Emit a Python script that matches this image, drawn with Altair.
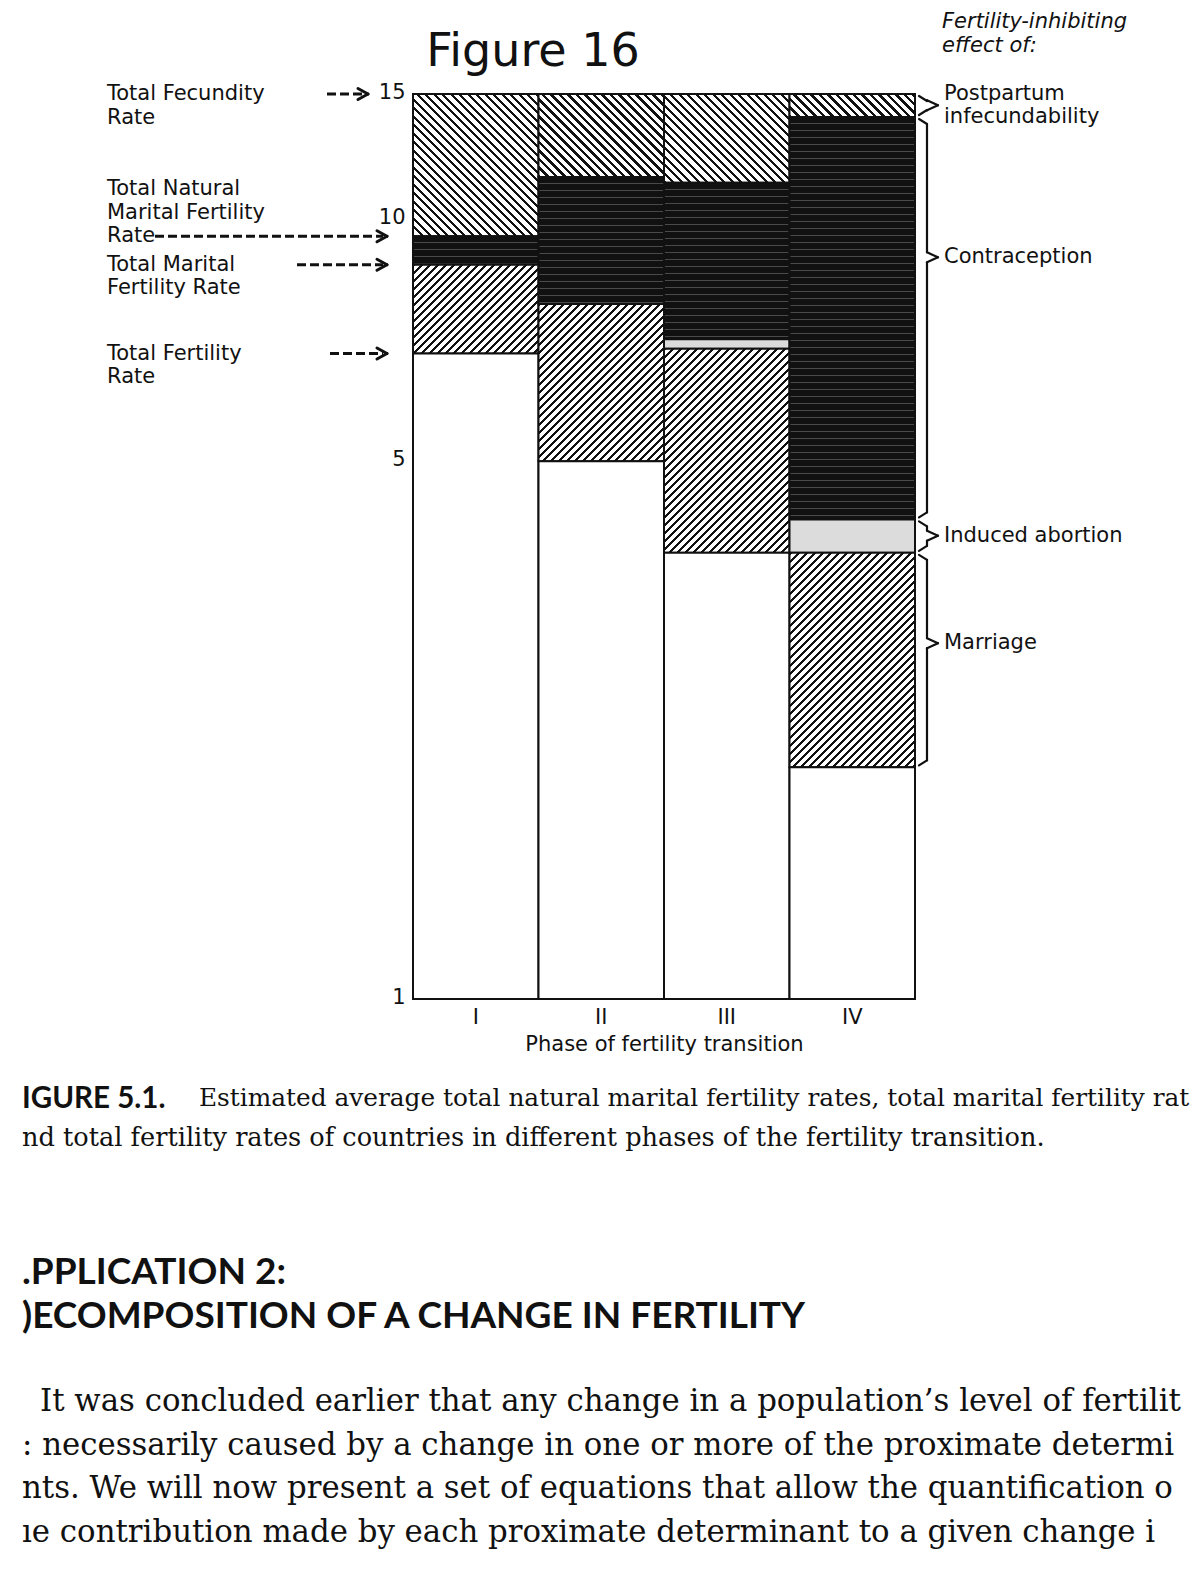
import math
import altair as alt

# ------------------------------------------------------------------
# Data (values on the log-scaled y axis)
# ------------------------------------------------------------------
phases = ["I", "II", "III", "IV"]
total_fecundity = [15.0, 15.0, 15.0, 15.0]
natural_marital_fertility = [9.8, 11.7, 11.5, 14.0]
after_contraception = [9.0, 8.0, 7.2, 4.2]
marital_fertility = [9.0, 8.0, 7.0, 3.8]
total_fertility = [6.9, 5.0, 3.8, 2.0]
axis_floor = 1.0
y_ticks = [1, 5, 10, 15]

effects = ["Postpartum infecundability", "Contraception", "Induced abortion",
           "Marriage", "Total fertility"]

left_labels = ["Total Fecundity Rate", "Total Natural Marital Fertility Rate",
               "Total Marital Fertility Rate", "Total Fertility Rate"]
left_label_lines = [["Total Fecundity", "Rate"],
                    ["Total Natural", "Marital Fertility", "Rate"],
                    ["Total Marital", "Fertility Rate"],
                    ["Total Fertility", "Rate"]]
left_label_on_line = [0, 2, 0, 0]
left_label_values = [total_fecundity[0], natural_marital_fertility[0],
                     marital_fertility[0], total_fertility[0]]

right_label_lines = [["Postpartum", "infecundability"], ["Contraception"],
                     ["Induced abortion"], ["Marriage"]]
right_label_values = [14.5, 9.2, 4.0, 2.9]

legend_heading = ["Fertility-inhibiting", "effect of:"]
figure_mark = "Figure 16"
x_title = "Phase of fertility transition"
caption_label = "IGURE 5.1."
caption_lines = [
    "Estimated average total natural marital fertility rates, total marital fertility rat",
    "nd total fertility rates of countries in different phases of the fertility transition.",
]
heading_lines = [".PPLICATION 2:", ")ECOMPOSITION OF A CHANGE IN FERTILITY"]
body_lines = [
    "It was concluded earlier that any change in a population\u2019s level of fertilit",
    ": necessarily caused by a change in one or more of the proximate determi",
    "nts. We will now present a set of equations that allow the quantification o",
    "\u0131e contribution made by each proximate determinant to a given change i",
]

# ------------------------------------------------------------------
# Styling / layout
# ------------------------------------------------------------------
INK = "#111111"
PAPER = "#ffffff"
STREAK = "#4a4a4a"
ABORTION_GREY = "#dcdcdc"
FONT = "DejaVu Sans"
SERIF = "DejaVu Serif"
HEAD_FONT = "Lato"

PLOT_W, PLOT_H = 502, 905
PADDING = {"left": 405, "top": 86, "right": 277, "bottom": 571}
BAND_W = PLOT_W / len(phases)
PX_PER_LOG = PLOT_H / math.log(max(total_fecundity) / axis_floor)
LINE_H = 23.5


def seg_px(top, bottom):
    return PX_PER_LOG * math.log(top / bottom)


def stripe_stops(period, frac, length, c_line, c_gap):
    stops = []
    if length <= 0:
        return [{"offset": 0, "color": c_line}, {"offset": 1, "color": c_line}]
    step = period / length
    t = 0.0
    while t < 1.0 - 1e-9:
        a = t
        b = min(1.0, t + frac * step)
        c = min(1.0, t + step)
        stops += [{"offset": round(a, 5), "color": c_line},
                  {"offset": round(b, 5), "color": c_line},
                  {"offset": round(b, 5), "color": c_gap},
                  {"offset": round(c, 5), "color": c_gap}]
        t += step
    return stops


def hatch(direction, w, h, period, frac):
    total = w + h
    s = total / (w * w + h * h)
    stops = stripe_stops(period, frac, total, INK, PAPER)
    if direction == "/":
        return {"gradient": "linear", "x1": 0, "y1": 0, "x2": s * w, "y2": s * h, "stops": stops}
    return {"gradient": "linear", "x1": 0, "y1": 1, "x2": s * w, "y2": 1 - s * h, "stops": stops}


def segment_fill(effect, top, bottom):
    h = seg_px(top, bottom)
    if effect == effects[0]:
        return hatch("\\", BAND_W, h, 8.5, 0.38)
    if effect == effects[1]:
        return {"gradient": "linear", "x1": 0, "y1": 0, "x2": 0, "y2": 1,
                "stops": stripe_stops(7.0, 0.86, h, INK, STREAK)}
    if effect == effects[2]:
        return ABORTION_GREY
    if effect == effects[3]:
        return hatch("/", BAND_W, h, 8.0, 0.38)
    return PAPER


segments = []
for i, phase in enumerate(phases):
    levels = [total_fecundity[i], natural_marital_fertility[i], after_contraception[i],
              marital_fertility[i], total_fertility[i], axis_floor]
    for j, eff in enumerate(effects):
        top, bottom = levels[j], levels[j + 1]
        segments.append({"phase": phase, "effect": eff, "top": top, "bottom": bottom,
                         "fill": segment_fill(eff, top, bottom)})

Y_SCALE = alt.Scale(type="log", domain=[axis_floor, max(total_fecundity)], nice=False)
Y_AXIS = alt.Axis(values=y_ticks, format="d", labelFont=FONT, labelFontSize=21,
                  labelColor=INK, labelPadding=8, ticks=False, domain=False,
                  grid=False, title=None,
                  labelOffset={"condition": {"test": "datum.value == 10", "value": -12},
                               "value": -2})


def y_enc(field):
    return alt.Y(f"{field}:Q", scale=Y_SCALE, axis=Y_AXIS)


bars = alt.Chart(alt.Data(values=segments)).mark_bar(
    stroke=INK, strokeWidth=2
).encode(
    x=alt.X("phase:N", sort=phases,
            scale=alt.Scale(paddingInner=0, paddingOuter=0),
            axis=alt.Axis(labelAngle=0, labelFont=FONT, labelFontSize=21, labelColor=INK,
                          labelPadding=7, ticks=False, domain=False, title=x_title,
                          titleFont=FONT, titleFontSize=21, titleFontWeight="normal",
                          titleColor=INK, titlePadding=6)),
    y=y_enc("top"),
    y2=alt.Y2("bottom:Q"),
    fill=alt.Fill("fill:N", scale=None),
)

layers = [bars]

# ---------------- left-hand labels with dashed arrows ----------------
LEFT_X = -306
ARROWS = {  # (dash start x, arrow tip x) relative to plot origin
    left_labels[0]: (-86, -45),
    left_labels[1]: (-258, -26),
    left_labels[2]: (-116, -26),
    left_labels[3]: (-83, -26),
}
left_rows = []
for idx, lines in enumerate(left_label_lines):
    for li, txt in enumerate(lines):
        left_rows.append({"label": left_labels[idx], "t": txt,
                          "value": left_label_values[idx],
                          "shift": li - left_label_on_line[idx]})
for sh in sorted(set(r["shift"] for r in left_rows)):
    rows = [r for r in left_rows if r["shift"] == sh]
    layers.append(
        alt.Chart(alt.Data(values=rows)).mark_text(
            align="left", baseline="middle", font=FONT, fontSize=21, color=INK,
            dy=sh * LINE_H
        ).encode(x=alt.value(LEFT_X), y=y_enc("value"), text="t:N")
    )

for idx, lab in enumerate(left_labels):
    x0, tip = ARROWS[lab]
    d = alt.Data(values=[{"label": lab, "value": left_label_values[idx]}])
    layers.append(
        alt.Chart(d).mark_rule(stroke=INK, strokeWidth=3, strokeDash=[9, 4]).encode(
            x=alt.value(x0), x2=alt.value(tip - 4), y=y_enc("value"))
    )
    for off in (-5.5, 5.5):
        layers.append(
            alt.Chart(d).mark_rule(stroke=INK, strokeWidth=3, strokeCap="round",
                                   yOffset=off, y2Offset=0).encode(
                x=alt.value(tip - 10), x2=alt.value(tip),
                y=y_enc("value"), y2=alt.Y2("value:Q"))
        )

# ---------------- right-hand braces and labels ----------------
levels_last = [total_fecundity[-1], natural_marital_fertility[-1], after_contraception[-1],
               marital_fertility[-1], total_fertility[-1]]
brace_rows = [{"effect": effects[j], "top": levels_last[j], "bottom": levels_last[j + 1],
               "nub": right_label_values[j]} for j in range(4)]
BX0, BX1, BX2 = 506, 514, 525
GAP, CURL, NUB = 2, 5, 5
brace_segments = [
    (BX0, BX1, "top", GAP, "top", GAP + CURL),
    (BX1, BX1, "top", GAP + CURL, "nub", -NUB),
    (BX1, BX2, "nub", -NUB, "nub", 0),
    (BX2, BX1, "nub", 0, "nub", NUB),
    (BX1, BX1, "nub", NUB, "bottom", -GAP - CURL),
    (BX1, BX0, "bottom", -GAP - CURL, "bottom", -GAP),
]
for xa, xb, f1, o1, f2, o2 in brace_segments:
    layers.append(
        alt.Chart(alt.Data(values=brace_rows)).mark_rule(
            stroke=INK, strokeWidth=2.2, strokeCap="round", yOffset=o1, y2Offset=o2
        ).encode(x=alt.value(xa), x2=alt.value(xb), y=y_enc(f1), y2=alt.Y2(f"{f2}:Q"))
    )

RIGHT_X = 531
right_rows = []
for idx, lines in enumerate(right_label_lines):
    n = len(lines)
    for li, txt in enumerate(lines):
        right_rows.append({"t": txt, "value": right_label_values[idx],
                           "shift": li - (n - 1) / 2})
for sh in sorted(set(r["shift"] for r in right_rows)):
    rows = [r for r in right_rows if r["shift"] == sh]
    layers.append(
        alt.Chart(alt.Data(values=rows)).mark_text(
            align="left", baseline="middle", font=FONT, fontSize=21, color=INK,
            dy=sh * LINE_H
        ).encode(x=alt.value(RIGHT_X), y=y_enc("value"), text="t:N")
    )


# ---------------- page text ----------------
def page_text(text, x, y, size, font, weight="normal", style="normal", align="left"):
    return alt.Chart(alt.Data(values=[{"t": text}])).mark_text(
        align=align, baseline="middle", font=font, fontSize=size,
        fontWeight=weight, fontStyle=style, color=INK
    ).encode(x=alt.value(x), y=alt.value(y), text="t:N")


layers.append(page_text(figure_mark, 120, -42, 46, FONT, align="center"))
layers.append(page_text(legend_heading[0], 529, -72, 21, FONT, style="italic"))
layers.append(page_text(legend_heading[1], 529, -48, 21, FONT, style="italic"))

layers.append(page_text(caption_label, -391, 1005, 29.5, HEAD_FONT, weight="bold"))
layers.append(page_text(caption_lines[0], -214, 1005, 24.8, SERIF))
layers.append(page_text(caption_lines[1], -391, 1044, 25.6, SERIF))

layers.append(page_text(heading_lines[0], -391, 1179, 37, HEAD_FONT, weight="bold"))
layers.append(page_text(heading_lines[1], -391, 1223, 37, HEAD_FONT, weight="bold"))

body_x = [-373, -391, -391, -391]
for i, line in enumerate(body_lines):
    layers.append(page_text(line, body_x[i], 1308 + i * 43.6, 30.8, SERIF))

chart = alt.layer(*layers).properties(
    width=PLOT_W,
    height=PLOT_H,
    padding=PADDING,
    autosize=alt.AutoSizeParams(type="none"),
    background=PAPER,
).configure_view(stroke=None)

chart.save("out.html", embed_options={"renderer": "svg", "actions": False})
